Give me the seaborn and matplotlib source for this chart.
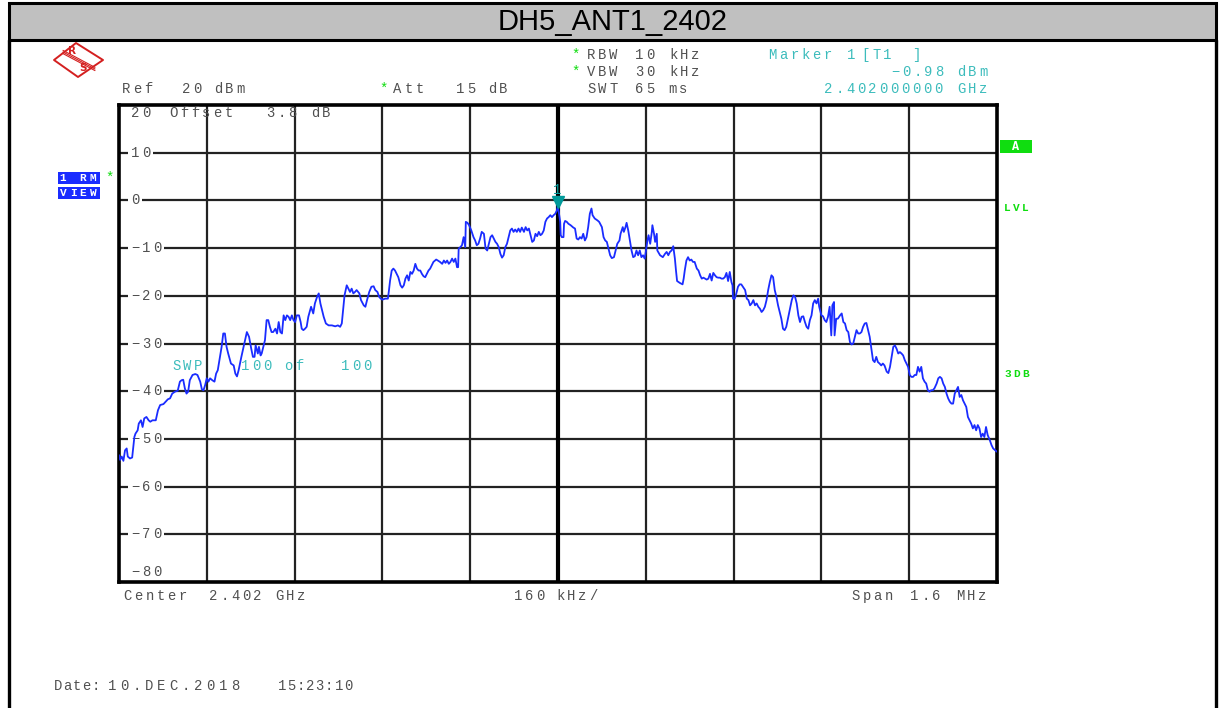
import matplotlib
matplotlib.use("Agg")
import matplotlib.pyplot as plt
import matplotlib.transforms as mtransforms
from matplotlib.patches import Polygon, Rectangle
import pandas as pd
import seaborn as sns

# trace: offset from 2.402 GHz centre (kHz) and level (dBm)
freq_khz = [
    -800, -798, -795, -792, -789, -786, -784, -780, -776, -774, -772, -770, -766, -764, -760, -757,
    -754, -750, -746, -743, -739, -733, -729, -725, -719, -715, -711, -707, -703, -698, -693, -689,
    -686, -683, -680, -677, -674, -671, -666, -661, -657, -652, -649, -646, -643, -640, -637, -634,
    -630, -626, -623, -620, -616, -613, -610, -607, -604, -601, -596, -591, -588, -585, -582, -577,
    -573, -567, -563, -559, -556, -553, -551, -547, -545, -542, -540, -537, -534, -531, -528, -525,
    -522, -519, -515, -512, -509, -506, -503, -500, -497, -494, -491, -488, -485, -482, -479, -476,
    -472, -469, -467, -464, -461, -458, -455, -450, -446, -443, -439, -436, -433, -430, -427, -423,
    -418, -412, -406, -401, -397, -394, -389, -385, -382, -379, -376, -373, -370, -367, -362, -359,
    -354, -351, -348, -344, -340, -336, -333, -329, -326, -323, -320, -315, -310, -308, -306, -303,
    -300, -297, -294, -291, -287, -284, -281, -278, -275, -272, -269, -266, -263, -260, -257, -254,
    -251, -248, -245, -242, -239, -236, -233, -230, -227, -222, -219, -215, -211, -208, -205, -202,
    -199, -196, -193, -190, -187, -184, -182, -181, -178, -175, -172, -169, -168, -165, -162, -158,
    -154, -151, -148, -145, -142, -139, -135, -132, -129, -126, -123, -120, -117, -114, -111, -108,
    -105, -102, -99, -96, -93, -90, -87, -84, -81, -78, -75, -72, -69, -66, -62, -59,
    -56, -53, -50, -47, -44, -41, -38, -35, -32, -29, -26, -23, -20, -17, -14, -11,
    -8, -5, -2, 0,
    1, 4, 5, 7, 10, 11, 13, 16, 19, 23, 28, 31, 34, 37, 40, 43,
    46, 49, 52, 55, 58, 61, 63, 67, 72, 75, 80, 83, 86, 89, 92, 95,
    98, 102, 105, 108, 112, 114, 118, 120, 123, 125, 128, 131, 134, 137, 140, 143,
    146, 149, 152, 155, 158, 160, 163, 165, 168, 171, 172, 175, 177, 180, 181, 186,
    191, 195, 198, 201, 204, 207, 210, 213, 215, 217, 222, 227, 229, 231, 234, 237,
    240, 243, 246, 249, 253, 256, 259, 262, 265, 268, 271, 274, 277, 280, 283, 286,
    289, 292, 295, 298, 301, 304, 307, 310, 313, 316, 318, 319, 322, 325, 328, 331,
    334, 337, 341, 344, 347, 350, 353, 356, 359, 362, 365, 368, 371, 374, 377, 380,
    383, 386, 389, 392, 395, 398, 401, 404, 407, 410, 413, 416, 419, 422, 426, 429,
    432, 435, 438, 441, 444, 447, 450, 453, 456, 459, 462, 465, 468, 471, 474, 476,
    480, 483, 486, 489, 492, 495, 498, 500, 503, 504, 507, 510, 514, 517, 520, 523,
    526, 529, 532, 535, 538, 541, 544, 547, 550, 553, 556, 559, 562, 565, 568, 571,
    574, 577, 580, 583, 586, 589, 592, 595, 599, 602, 605, 608, 611, 614, 617, 620,
    623, 626, 629, 632, 635, 638, 641, 644, 647, 650, 653, 656, 659, 662, 665, 668,
    671, 674, 677, 680, 683, 686, 690, 693, 696, 699, 702, 705, 708, 711, 714, 717,
    720, 723, 726, 729, 732, 735, 738, 741, 744, 747, 750, 753, 756, 759, 762, 765,
    768, 771, 774, 777, 780, 783, 787, 790, 793, 800,
]
level_dbm = [
    -53.4, -54.4, -53.7, -54.6, -52.4, -52.0, -53.7, -54.1, -53.9, -51.7, -49.6, -48.9, -48.2, -46.8, -46.1, -47.5,
    -45.7, -45.4, -46.1, -46.4, -46.1, -46.1, -44.0, -42.9, -42.7, -42.2, -41.7, -41.5, -40.5, -40.1, -39.9, -38.0,
    -37.7, -37.6, -39.4, -40.5, -40.1, -37.7, -36.6, -36.4, -36.6, -38.0, -39.6, -39.8, -38.7, -37.3, -38.0, -37.3,
    -37.7, -38.0, -36.3, -35.6, -32.8, -30.7, -27.9, -27.9, -30.7, -32.1, -34.2, -34.6, -36.3, -36.9, -35.6, -32.8,
    -30.7, -27.6, -28.6, -31.1, -32.8, -32.8, -30.4, -32.1, -30.7, -32.5, -32.1, -30.7, -29.3, -25.1, -25.1, -26.5,
    -27.6, -27.6, -26.9, -27.9, -25.5, -27.6, -27.9, -24.1, -25.1, -24.1, -24.4, -25.1, -24.1, -25.1, -25.5, -24.1,
    -24.1, -25.5, -26.9, -27.2, -26.9, -26.5, -24.4, -22.3, -23.7, -21.6, -20.2, -19.5, -21.6, -23.0, -24.4, -25.8,
    -26.2, -26.2, -26.4, -26.2, -26.5, -25.8, -19.9, -17.8, -18.5, -19.2, -18.5, -19.5, -19.2, -18.8, -19.5, -20.9,
    -22.0, -22.3, -20.9, -19.2, -18.1, -18.0, -18.8, -19.2, -20.2, -20.6, -20.8, -20.6, -20.6, -18.8, -16.8, -14.7,
    -14.3, -14.7, -15.4, -16.1, -17.8, -18.3, -17.8, -16.4, -15.7, -16.8, -15.0, -15.4, -14.7, -13.3, -14.3, -14.7,
    -14.7, -15.4, -15.9, -16.1, -15.4, -14.7, -14.3, -13.6, -12.9, -12.4, -12.6, -12.9, -13.3, -12.6, -13.1, -12.6,
    -13.3, -12.9, -12.2, -12.9, -12.2, -14.0, -14.0, -10.1, -9.8, -9.4, -7.7, -9.8, -4.5, -4.7, -5.2, -6.3,
    -7.7, -8.4, -9.4, -9.1, -8.0, -6.6, -7.0, -10.1, -10.5, -9.1, -7.7, -7.3, -8.0, -8.7, -9.1, -9.8,
    -11.2, -12.0, -11.5, -9.8, -9.1, -7.7, -6.3, -5.9, -6.6, -6.1, -6.6, -5.9, -6.6, -5.7, -6.6, -5.6,
    -6.3, -5.9, -7.3, -8.7, -8.4, -7.0, -7.5, -6.6, -7.3, -7.0, -6.3, -4.5, -3.8, -3.5, -3.1, -3.5,
    -3.1, -2.8, -2.1, -0.98,
    -2.1, -4.5, -7.3, -7.7, -7.7, -4.9, -4.3, -4.5, -4.9, -5.2, -5.7, -5.9, -8.0, -8.2, -7.7, -8.0,
    -7.0, -8.4, -7.7, -5.6, -2.8, -1.7, -3.1, -3.8, -4.2, -4.5, -5.6, -7.7, -8.4, -8.7, -10.1, -11.5,
    -12.1, -11.9, -10.5, -9.1, -8.4, -7.0, -5.6, -6.6, -5.6, -4.7, -6.3, -8.4, -10.5, -11.9, -11.7, -10.5,
    -11.5, -10.5, -11.9, -11.5, -12.2, -10.8, -8.4, -7.3, -9.1, -6.6, -5.2, -7.0, -8.7, -7.0, -10.5, -11.5,
    -11.9, -11.2, -10.8, -11.5, -10.8, -10.5, -9.6, -12.2, -14.7, -16.9, -17.3, -17.6, -16.4, -14.7, -12.6, -11.9,
    -12.6, -12.4, -12.9, -12.9, -14.3, -14.7, -15.7, -16.4, -16.2, -16.4, -16.6, -16.4, -15.4, -16.8, -15.2, -15.7,
    -16.1, -16.2, -16.2, -16.4, -16.4, -16.1, -15.2, -16.9, -15.0, -17.1, -17.8, -20.6, -20.6, -19.5, -18.1, -17.6,
    -17.6, -18.1, -18.8, -20.6, -20.9, -22.0, -21.6, -20.9, -22.0, -21.6, -22.3, -22.7, -23.4, -23.0, -22.3, -20.9,
    -18.8, -17.1, -15.7, -16.1, -18.8, -20.2, -22.0, -23.4, -24.8, -26.9, -27.2, -26.5, -24.8, -23.0, -20.9, -19.9,
    -20.2, -21.6, -24.1, -25.5, -24.4, -24.3, -25.5, -26.5, -26.9, -25.1, -24.1, -21.6, -20.9, -21.6, -20.6, -22.3,
    -24.1, -24.3, -25.1, -25.5, -24.4, -22.3, -28.3, -22.0, -21.3, -28.3, -24.8, -24.8, -24.1, -23.7, -25.5, -25.8,
    -27.2, -27.6, -29.7, -30.2, -30.0, -28.6, -27.2, -27.9, -27.9, -27.6, -26.5, -25.8, -25.7, -27.2, -28.6, -31.1,
    -33.5, -33.9, -32.8, -33.9, -34.2, -34.6, -34.2, -34.6, -35.9, -36.2, -34.9, -32.8, -30.7, -30.4, -31.1, -32.1,
    -31.8, -32.1, -32.5, -33.5, -34.2, -34.9, -36.6, -37.0, -37.0, -36.6, -36.6, -34.9, -35.9, -34.9, -37.3, -38.0,
    -38.4, -39.8, -40.1, -39.8, -39.8, -39.4, -38.4, -37.3, -37.0, -37.3, -38.4, -39.1, -40.5, -41.5, -42.2, -42.6,
    -42.6, -40.5, -39.8, -39.1, -41.2, -40.8, -41.9, -42.6, -43.3, -45.4, -46.1, -46.8, -47.8, -47.1, -48.2, -47.1,
    -47.8, -49.6, -48.9, -49.6, -47.5, -49.2, -50.3, -51.3, -52.0, -52.7,
]

marker_freq = 0
marker_level = -0.98

y_grid = [10, 0, -10, -20, -30, -40, -50, -60, -70]
y_label_vals = [10, 0, -10, -20, -30, -40, -50, -60, -70]
x_grid = [-640, -480, -320, -160, 0, 160, 320, 480, 640]

GRAY = "#505050"
CYAN = "#3cbcbc"
GREEN = "#10dd10"
BLUE = "#1a2cff"
MONO = ["Liberation Mono", "DejaVu Sans Mono"]

sns.set_style("white")

fig = plt.figure(figsize=(12.19, 7.08), dpi=100)
W, H = 1219, 708

# main trace area
ax = fig.add_axes([119 / W, 1 - 582 / H, (997 - 119) / W, (582 - 105) / H])
df = pd.DataFrame({"freq_khz": freq_khz, "level_dbm": level_dbm})
sns.lineplot(data=df, x="freq_khz", y="level_dbm", ax=ax, sort=False, estimator=None,
             color=BLUE, lw=1.3, zorder=3)
ax.set_xlim(-800, 800)
ax.set_ylim(-80, 20)
ax.set_xticks(x_grid)
ax.set_yticks(y_grid)
ax.tick_params(length=0, labelbottom=False, labelleft=False)
ax.set_xlabel("")
ax.set_ylabel("")
ax.grid(True, color="#222222", lw=1.6)
ax.axvline(0, color="black", lw=3, zorder=1)
for s in ax.spines.values():
    s.set_color("black")
    s.set_linewidth(2.6)
ax.plot([marker_freq], [marker_level + 0.6], marker="v", color="#009a9a", ms=8, zorder=4)

# overlay in pixel coordinates
ov = fig.add_axes([0, 0, 1, 1], facecolor="none")
ov.set_xlim(0, W)
ov.set_ylim(H, 0)
ov.axis("off")
blend = mtransforms.blended_transform_factory(ov.transData, ax.transData)


def mono(x, y, s, color=GRAY, adv=11.0, size=10, target=ov, transform=None, bold=False, z=5):
    for i, ch in enumerate(s):
        if ch == " ":
            continue
        target.text(x + i * adv + adv / 2, y, ch, ha="center", va="center", color=color,
                    fontsize=size, family=MONO, fontweight="bold" if bold else "normal",
                    transform=transform if transform is not None else target.transData,
                    zorder=z, clip_on=False)


# y labels sitting on the grid lines
for v in y_label_vals:
    lab = str(v).replace("-", "\u2212")
    ax.add_patch(Rectangle((128, v - 1.2), len(lab) * 11 + 3, 2.4, transform=blend,
                           facecolor="white", edgecolor="none", zorder=1.5, clip_on=False))
    mono(130, v, lab, target=ax, transform=blend, z=1.6)
mono(130, -78.0, "\u221280", target=ax, transform=blend, z=1.6)

# title bar and outer frame
ov.add_patch(Rectangle((9, 3), 1207, 37, facecolor="#c0c0c0", edgecolor="black", lw=2.2))
ov.plot([9, 9], [40, H], color="black", lw=2.4)
ov.plot([1216, 1216], [40, H], color="black", lw=2.4)
ov.text(613, 22, "DH5_ANT1_2402", ha="center", va="center", fontsize=21,
        family=["Liberation Sans", "DejaVu Sans"], color="black")

# R&S logo
red = "#d42020"
ov.add_patch(Polygon([(54, 60), (76, 43), (103, 60), (78, 77)], closed=True,
                     facecolor="none", edgecolor=red, lw=1.4, joinstyle="round"))
for d in (-1.6, 0, 1.6):
    ov.plot([63, 95], [52 + d, 69 + d], color=red, lw=0.8)
ov.text(72, 51, "R", color=red, fontsize=7.5, fontweight="bold", ha="center", va="center")
ov.text(83, 68, "S", color=red, fontsize=7.5, fontweight="bold", ha="center", va="center")

# header text
mono(570, 55, "*", color=GREEN)
mono(586, 55, "RBW")
mono(634, 55, "10")
mono(668, 55, "kHz")
mono(570, 72, "*", color=GREEN)
mono(586, 72, "VBW")
mono(634, 72, "30")
mono(668, 72, "kHz")
mono(586, 89, "SWT")
mono(634, 89, "65")
mono(667, 89, "ms")
mono(767, 55, "Marker", color=CYAN)
mono(846, 55, "1", color=CYAN)
mono(860, 55, "[T1", color=CYAN)
mono(911, 55, "]", color=CYAN)
mono(890, 72, "\u22120.98", color=CYAN)
mono(956, 72, "dBm", color=CYAN)
mono(823, 89, "2.402000000", color=CYAN)
mono(956, 89, "GHz", color=CYAN)
mono(121, 89, "Ref")
mono(181, 89, "20")
mono(213, 89, "dBm")
mono(378, 89, "*", color=GREEN)
mono(392, 89, "Att")
mono(455, 89, "15")
mono(487, 89, "dB")

# text inside the grid
mono(130, 113, "20")
mono(168, 113, "Offset")
mono(265, 113, "3.8")
mono(310, 113, "dB")
mono(171, 366, "SWP", color=CYAN)
mono(240, 366, "100", color=CYAN)
mono(283, 366, "of", color=CYAN)
mono(340, 366, "100", color=CYAN)
mono(552, 190, "1", color="#009a9a")

# left trace labels
ov.add_patch(Rectangle((58, 172), 42, 12, facecolor=BLUE, edgecolor="none"))
ov.add_patch(Rectangle((58, 187), 42, 12, facecolor=BLUE, edgecolor="none"))
mono(58, 178, "1 RM", color="white", adv=10, size=8, bold=True)
mono(58, 193, "VIEW", color="white", adv=10, size=8, bold=True)
mono(104, 178, "*", color=GREEN)

# right side annotations
ov.add_patch(Rectangle((1000, 140), 32, 13, facecolor=GREEN, edgecolor="none"))
ov.text(1016, 147, "A", color="white", fontsize=8.5, family=MONO, fontweight="bold",
        ha="center", va="center")
mono(1003, 208, "LVL", color=GREEN, adv=9, size=8, bold=True)
mono(1003, 374, "3DB", color=GREEN, adv=9, size=8, bold=True)

# footer
mono(122, 596, "Center")
mono(208, 596, "2.402")
mono(274, 596, "GHz")
mono(513, 596, "160")
mono(555, 596, "kHz/")
mono(850, 596, "Span")
mono(909, 596, "1.6")
mono(955, 596, "MHz")
mono(53, 686, "Date:", adv=9.5)
mono(106, 686, "10.DEC.2018", adv=12.3)
mono(277, 686, "15:23:10", adv=9.5)

fig.savefig("out.png", dpi=100)
